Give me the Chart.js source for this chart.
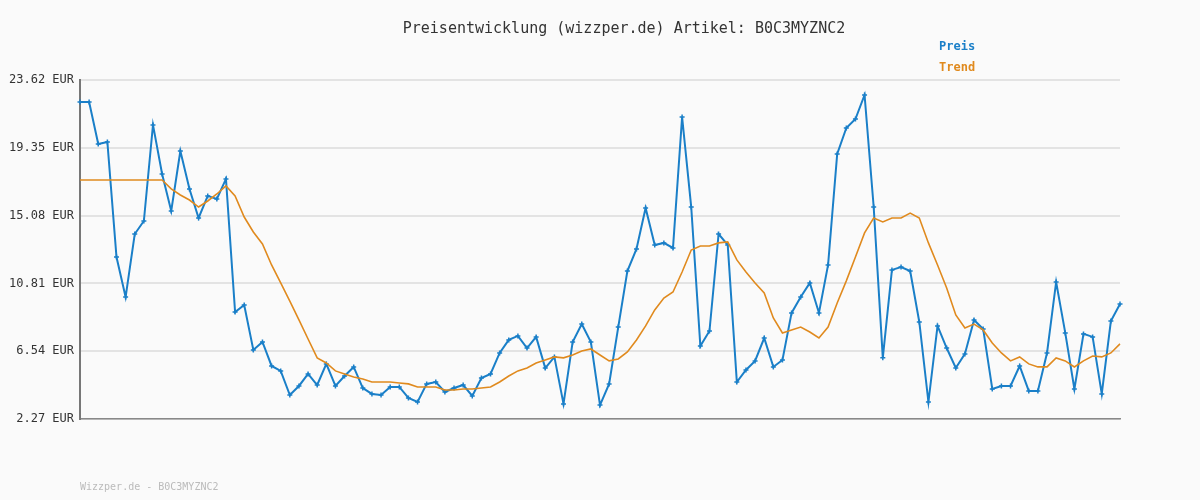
<!DOCTYPE html>
<html>
<head>
<meta charset="utf-8">
<script src="https://cdn.jsdelivr.net/npm/chart.js@4.4.0/dist/chart.umd.min.js"></script>
<style>
  body { margin: 0; background: #fafafa; }
  #wrap { position: relative; width: 1200px; height: 500px; font-family: "DejaVu Sans Mono", monospace; }
  #title { position: absolute; top: 19px; left: 0; width: 1248px; text-align: center; font-size: 15px; color: #333; }
  .leg { position: absolute; left: 939px; font-size: 12px; font-weight: bold; }
  #foot { position: absolute; left: 80px; top: 481px; font-size: 10px; color: #bbb; }
  canvas { position: absolute; left: 0; top: 0; }
</style>
</head>
<body>
<div id="wrap">
  <canvas id="c" width="1200" height="500"></canvas>
  <div id="title">Preisentwicklung (wizzper.de) Artikel: B0C3MYZNC2</div>
  <div class="leg" style="top:39px;color:#1a7fc8">Preis</div>
  <div class="leg" style="top:60px;color:#e08a1e">Trend</div>
  <div id="foot">Wizzper.de - B0C3MYZNC2</div>
</div>
<script>
const price = [
  22.23, 22.23, 19.59, 19.72, 12.47, 9.95, 13.92, 14.74, 20.79, 17.70,
  15.37, 19.15, 16.76, 14.93, 16.32, 16.13, 17.39, 9.01, 9.45, 6.62,
  7.12, 5.61, 5.30, 3.78, 4.35, 5.11, 4.41, 5.74, 4.35, 4.98,
  5.55, 4.22, 3.85, 3.78, 4.29, 4.29, 3.60, 3.34, 4.48, 4.60,
  3.97, 4.22, 4.41, 3.72, 4.85, 5.11, 6.43, 7.25, 7.50, 6.74,
  7.44, 5.48, 6.18, 3.22, 7.12, 8.25, 7.12, 3.15, 4.48, 8.06,
  11.59, 12.98, 15.56, 13.23, 13.36, 13.04, 21.29, 15.62, 6.87, 7.81,
  13.92, 13.23, 4.60, 5.36, 5.93, 7.37, 5.55, 5.99, 8.95, 9.95,
  10.84, 8.95, 11.97, 18.96, 20.60, 21.16, 22.68, 15.62, 6.12, 11.66,
  11.84, 11.59, 8.38, 3.34, 8.13, 6.74, 5.48, 6.37, 8.51, 7.94,
  4.16, 4.35, 4.35, 5.61, 4.04, 4.04, 6.43, 10.90, 7.69, 4.16,
  7.63, 7.44, 3.85, 8.44, 9.51
];
const trend = [
  17.32, 17.32, 17.32, 17.32, 17.32, 17.32, 17.32, 17.32, 17.32, 17.32,
  16.76, 16.38, 16.06, 15.62, 16.00, 16.44, 16.95, 16.32, 14.99, 14.05,
  13.29, 11.97, 10.84, 9.70, 8.51, 7.31, 6.12, 5.80, 5.30, 5.11,
  4.92, 4.79, 4.60, 4.60, 4.60, 4.54, 4.48, 4.29, 4.29, 4.29,
  4.10, 4.10, 4.16, 4.16, 4.22, 4.29, 4.60, 4.98, 5.30, 5.48,
  5.80, 5.99, 6.18, 6.12, 6.30, 6.55, 6.68, 6.30, 5.93, 6.05,
  6.49, 7.25, 8.13, 9.14, 9.89, 10.27, 11.53, 12.91, 13.17, 13.17,
  13.36, 13.42, 12.29, 11.53, 10.84, 10.21, 8.63, 7.69, 7.88, 8.06,
  7.75, 7.37, 8.06, 9.58, 10.97, 12.47, 13.99, 14.93, 14.68, 14.93,
  14.93, 15.24, 14.93, 13.36, 11.97, 10.52, 8.82, 8.00, 8.25, 7.88,
  7.06, 6.43, 5.93, 6.18, 5.74, 5.55, 5.55, 6.12, 5.93, 5.55,
  5.93, 6.24, 6.18, 6.43, 7.00
];
const yTicks = [2.27, 6.54, 10.81, 15.08, 19.35, 23.62];
const labels = price.map((_, i) => i + 1);

new Chart(document.getElementById("c"), {
  type: "line",
  data: {
    labels: labels,
    datasets: [
      { label: "Trend", data: trend, borderColor: "#e08a1e", borderWidth: 1.6, pointRadius: 0, tension: 0 },
      { label: "Preis", data: price, borderColor: "#1a7fc8", backgroundColor: "#1a7fc8", borderWidth: 2,
        pointStyle: "cross", pointRadius: 2.5, pointBorderWidth: 1.5, tension: 0 }
    ]
  },
  options: {
    responsive: false,
    animation: false,
    layout: { padding: { top: 80, right: 80, bottom: 81, left: 0 } },
    plugins: { legend: { display: false }, tooltip: { enabled: false } },
    scales: {
      x: {
        ticks: { display: false },
        grid: { display: false },
        border: { color: "#888", width: 1.5 },
        afterFit: s => { s.height = 0; }
      },
      y: {
        min: 2.27, max: 23.62,
        afterBuildTicks: s => { s.ticks = yTicks.map(v => ({ value: v })); },
        afterFit: s => { s.width = 80; },
        ticks: {
          color: "#333",
          font: { family: "DejaVu Sans Mono", size: 12 },
          padding: 6,
          callback: v => v.toFixed(2) + " EUR"
        },
        grid: { color: "#e3e3e3", lineWidth: 2, drawTicks: false },
        border: { color: "#777", width: 2 }
      }
    }
  }
});
</script>
</body>
</html>
